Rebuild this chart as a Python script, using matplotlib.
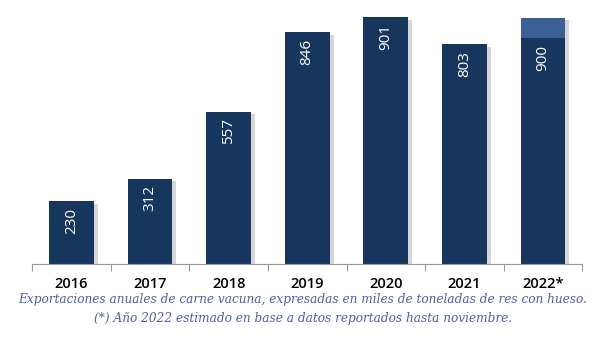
import matplotlib.pyplot as plt
from matplotlib.patches import Rectangle

# Annual beef exports (thousand tonnes, bone-in)
years = ['2016', '2017', '2018', '2019', '2020', '2021', '2022*']
totals = [230, 312, 557, 846, 901, 803, 900]
reported = [230, 312, 557, 846, 901, 803, 825]  # 2022: data through November

dark = '#17365d'
light = '#3b6194'

fig = plt.figure(figsize=(6.06, 3.56), dpi=100)
ax = fig.add_axes([0.053, 0.258, 0.908, 0.708])

x = range(len(years))
w = 0.57
# soft shadow
for i, v in zip(x, totals):
    ax.add_patch(Rectangle((i - w / 2 + 0.05, 0), w, v - 10, color='#d6d6d6', zorder=1, lw=0))
ax.bar(x, reported, width=w, color=dark, zorder=2)
ax.bar(x, [t - r for t, r in zip(totals, reported)], bottom=reported, width=w, color=light, zorder=2)

for i, (t, r) in enumerate(zip(totals, reported)):
    ax.text(i, r - 24, str(t), rotation=90, ha='center', va='top',
            color='white', fontsize=11, family='Open Sans', zorder=3)

ax.set_xlim(-0.5, 6.5)
ax.set_ylim(0, 920)
ax.set_yticks([])
for s in ['top', 'right', 'left']:
    ax.spines[s].set_visible(False)
ax.spines['bottom'].set_color('#999999')
ax.set_xticks([i - 0.5 for i in range(len(years) + 1)], minor=False)
ax.set_xticklabels([])
ax.tick_params(axis='x', which='major', length=5, color='#999999', direction='out')
ax.set_xticks(list(x), minor=True)
ax.set_xticklabels(years, minor=True, fontsize=10.5, family='Open Sans', fontweight='semibold')
ax.tick_params(axis='x', which='minor', length=0, pad=9)

fig.text(0.5, 0.158, 'Exportaciones anuales de carne vacuna, expresadas en miles de toneladas de res con hueso.',
         ha='center', va='center', style='italic', family='DejaVu Serif', fontsize=8.7, color='#4f5f9e')
fig.text(0.5, 0.105, '(*) Año 2022 estimado en base a datos reportados hasta noviembre.',
         ha='center', va='center', style='italic', family='DejaVu Serif', fontsize=8.7, color='#4f5f9e')

fig.savefig('out.png', dpi=100)
